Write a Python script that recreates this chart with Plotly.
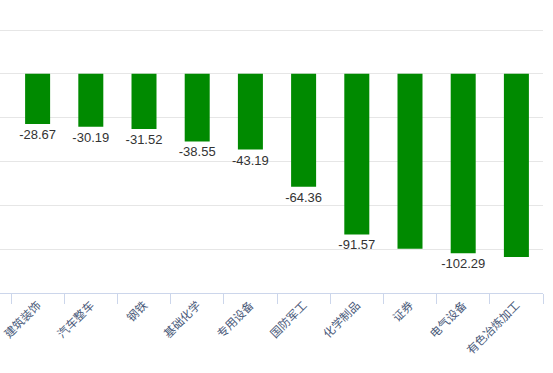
import plotly.graph_objects as go

categories = ["建筑装饰", "汽车整车", "钢铁", "基础化学", "专用设备",
              "国防军工", "化学制品", "证券", "电气设备", "有色冶炼加工"]
values = [-28.67, -30.19, -31.52, -38.55, -43.19, -64.36, -91.57, -99.8, -102.29, -104.4]
show_label = [True, True, True, True, True, True, True, False, True, False]

labels = [f"{v:.2f}" if s else "" for v, s in zip(values, show_label)]

fig = go.Figure(go.Bar(
    x=categories, y=values, text=labels, textposition="outside",
    textfont=dict(family="Liberation Sans, Arial, sans-serif", size=13, color="#333333"),
    constraintext="none",
    marker=dict(color="#008a00", line=dict(width=0)),
    width=0.47, cliponaxis=False,
))

fig.update_layout(
    width=553, height=373,
    margin=dict(l=0, r=10, t=27, b=80, autoexpand=False),
    plot_bgcolor="white", paper_bgcolor="white",
    showlegend=False,
    uniformtext=dict(minsize=13, mode="show"),
    xaxis=dict(
        range=[-0.707, 9.5], tickangle=-45, tickson="boundaries",
        ticks="outside", ticklen=10, tickcolor="#ccd6eb",
        showline=True, linecolor="#ccd6eb", linewidth=1,
        showgrid=False, automargin=False,
        tickfont=dict(family="Noto Sans CJK SC", size=11.5, color="#4a5a7a"),
    ),
    yaxis=dict(
        range=[-125, 26.711], tickvals=[25, 0, -25, -50, -75, -100], showticklabels=False,
        showgrid=True, gridcolor="#e6e6e6", gridwidth=1,
        zeroline=True, zerolinecolor="#e6e6e6", zerolinewidth=1,
        automargin=False,
    ),
)

fig.write_html("out.html", config={"displayModeBar": False},
               post_script="document.body.style.margin='0';")
